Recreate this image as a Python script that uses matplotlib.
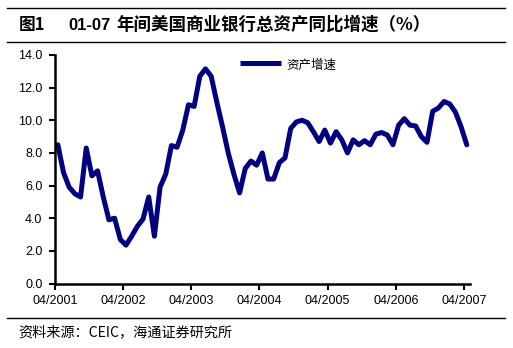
import numpy as np
import matplotlib.pyplot as plt
from matplotlib.lines import Line2D

plt.rcParams['font.family'] = ['Liberation Sans', 'Noto Sans CJK SC', 'DejaVu Sans']

# monthly year-on-year growth of US commercial bank total assets, 04/2001 - 04/2007
growth = [
    8.5, 6.8, 5.9, 5.5, 5.3, 8.3, 6.6, 6.9, 5.3, 3.9,
    4.0, 2.7, 2.35, 2.9, 3.5, 3.95, 5.3, 2.9, 5.9, 6.7,
    8.45, 8.35, 9.4, 10.95, 10.85, 12.7, 13.15, 12.7, 11.1, 9.6,
    8.0, 6.7, 5.55, 7.05, 7.5, 7.25, 8.0, 6.4, 6.4, 7.4,
    7.7, 9.5, 9.9, 10.0, 9.85, 9.3, 8.7, 9.4, 8.6, 9.3,
    8.8, 8.0, 8.8, 8.5, 8.75, 8.5, 9.15, 9.25, 9.1, 8.5,
    9.7, 10.1, 9.7, 9.65, 9.0, 8.65, 10.55, 10.75, 11.15, 11.0,
    10.5, 9.6, 8.5,
]
tick_labels = ['04/2001', '04/2002', '04/2003', '04/2004', '04/2005', '04/2006', '04/2007']
y_ticks = [0, 2, 4, 6, 8, 10, 12, 14]

navy = '#000080'
cjk = ['Noto Sans CJK SC', 'Liberation Sans', 'DejaVu Sans']

fig = plt.figure(figsize=(5.13, 3.48), dpi=100)
ax = fig.add_axes([0.1072, 0.1853, 0.8082, 0.6567])

x = np.arange(len(growth)) + 0.5
ax.plot(x, growth, color=navy, lw=3.6, solid_capstyle='round', solid_joinstyle='round')

ax.set_xlim(0, len(growth))
ax.set_ylim(0, 14)
ax.set_xticks(np.arange(0, len(growth), 12))
ax.set_xticklabels(tick_labels, fontsize=9)
ax.set_yticks(y_ticks)
ax.set_yticklabels([f'{v:.1f}' for v in y_ticks], fontsize=9)
ax.tick_params(axis='both', direction='out', length=4, width=1.5, color='black')
ax.tick_params(axis='x', pad=4)
ax.tick_params(axis='y', pad=5)
for side in ['top', 'right']:
    ax.spines[side].set_visible(False)
for side in ['left', 'bottom']:
    ax.spines[side].set_linewidth(1.8)

# legend drawn by hand in the upper middle of the plot
fig.add_artist(Line2D([240 / 513, 281 / 513], [1 - 63.3 / 348] * 2, color=navy, lw=3.6,
                      solid_capstyle='butt'))
fig.text(286 / 513, 1 - 65 / 348, '资产增速', fontsize=9, family=cjk, va='center', ha='left')

# header and footer rules
for y in [8, 42, 318]:
    fig.add_artist(Line2D([7 / 513, 505 / 513], [1 - y / 348] * 2, color='black', lw=1.0))

fig.text(19 / 513, 1 - 25 / 348, '图1', fontsize=12, fontweight='bold', family=cjk,
         va='center', ha='left')
fig.text(68 / 513, 1 - 25 / 348, '01-07', fontsize=12, fontweight='bold',
         family=['Liberation Sans', 'DejaVu Sans'], va='center', ha='left')
fig.text(116 / 513, 1 - 25 / 348, '年间美国商业银行总资产同比增速（%）', fontsize=12.6,
         fontweight='bold', family=cjk, va='center', ha='left')
fig.text(18 / 513, 1 - 332 / 348, '资料来源：CEIC，海通证券研究所', fontsize=10.2,
         family=cjk, va='center', ha='left')

fig.savefig('out.png', dpi=100)
